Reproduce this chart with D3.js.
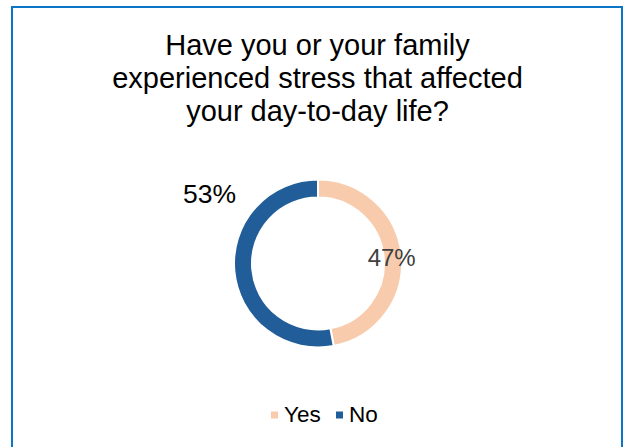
<!DOCTYPE html>
<html>
<head>
<meta charset="utf-8">
<script src="https://cdn.jsdelivr.net/npm/d3@7"></script>
<style>
  html, body { margin: 0; padding: 0; background: #fff; }
  svg { display: block; }
</style>
</head>
<body>
<svg id="chart" width="627" height="447"></svg>
<script>
const categories = ["Yes", "No"];
const values = [47, 53];
const labels = ["47%", "53%"];
const titleLines = ["Have you or your family", "experienced stress that affected", "your day-to-day life?"];
const colors = ["#F8CBAD", "#215E99"];

const svg = d3.select("#chart");
const W = 627, H = 447;
const font = "'Liberation Sans', Arial, sans-serif";

// frame
svg.append("rect")
  .attr("x", 12).attr("y", 7)
  .attr("width", 610).attr("height", 460)
  .attr("fill", "#fff")
  .attr("stroke", "#0B76C8")
  .attr("stroke-width", 2);

// title
const title = svg.append("text")
  .attr("text-anchor", "middle")
  .attr("font-family", font)
  .attr("font-size", 29)
  .attr("fill", "#000");
titleLines.forEach((t, i) => {
  title.append("tspan").attr("x", 317.5).attr("y", 55 + i * 33).text(t);
});

// donut
const cx = 318, cy = 263.5, R = 84, r = 66;
const g = svg.append("g").attr("transform", `translate(${cx},${cy})`);
const pie = d3.pie().sort(null).value(d => d)(values);
const arc = d3.arc().innerRadius(r).outerRadius(R);
g.selectAll("path").data(pie).join("path")
  .attr("d", arc)
  .attr("fill", (d, i) => colors[i])
  .attr("stroke", "#fff")
  .attr("stroke-width", 2);

// labels
const mid = d3.arc().innerRadius((R + r) / 2).outerRadius((R + r) / 2);
const c0 = mid.centroid(pie[0]);
g.append("text")
  .attr("x", c0[0] - 1).attr("y", c0[1] + 1)
  .attr("text-anchor", "middle").attr("dominant-baseline", "central")
  .attr("font-family", font).attr("font-size", 24)
  .attr("fill", "#404040")
  .text(labels[0]);
g.append("text")
  .attr("x", -108.5).attr("y", -70)
  .attr("text-anchor", "middle").attr("dominant-baseline", "central")
  .attr("font-family", font).attr("font-size", 26.5)
  .attr("fill", "#000")
  .text(labels[1]);

// legend
const legend = svg.append("g");
const legX = [271, 336];
categories.forEach((c, i) => {
  legend.append("rect")
    .attr("x", legX[i]).attr("y", 411.5)
    .attr("width", 7).attr("height", 7)
    .attr("fill", colors[i]);
  legend.append("text")
    .attr("x", legX[i] + 13).attr("y", 422)
    .attr("font-family", font).attr("font-size", 22.5)
    .attr("fill", "#000")
    .text(c);
});
</script>
</body>
</html>
